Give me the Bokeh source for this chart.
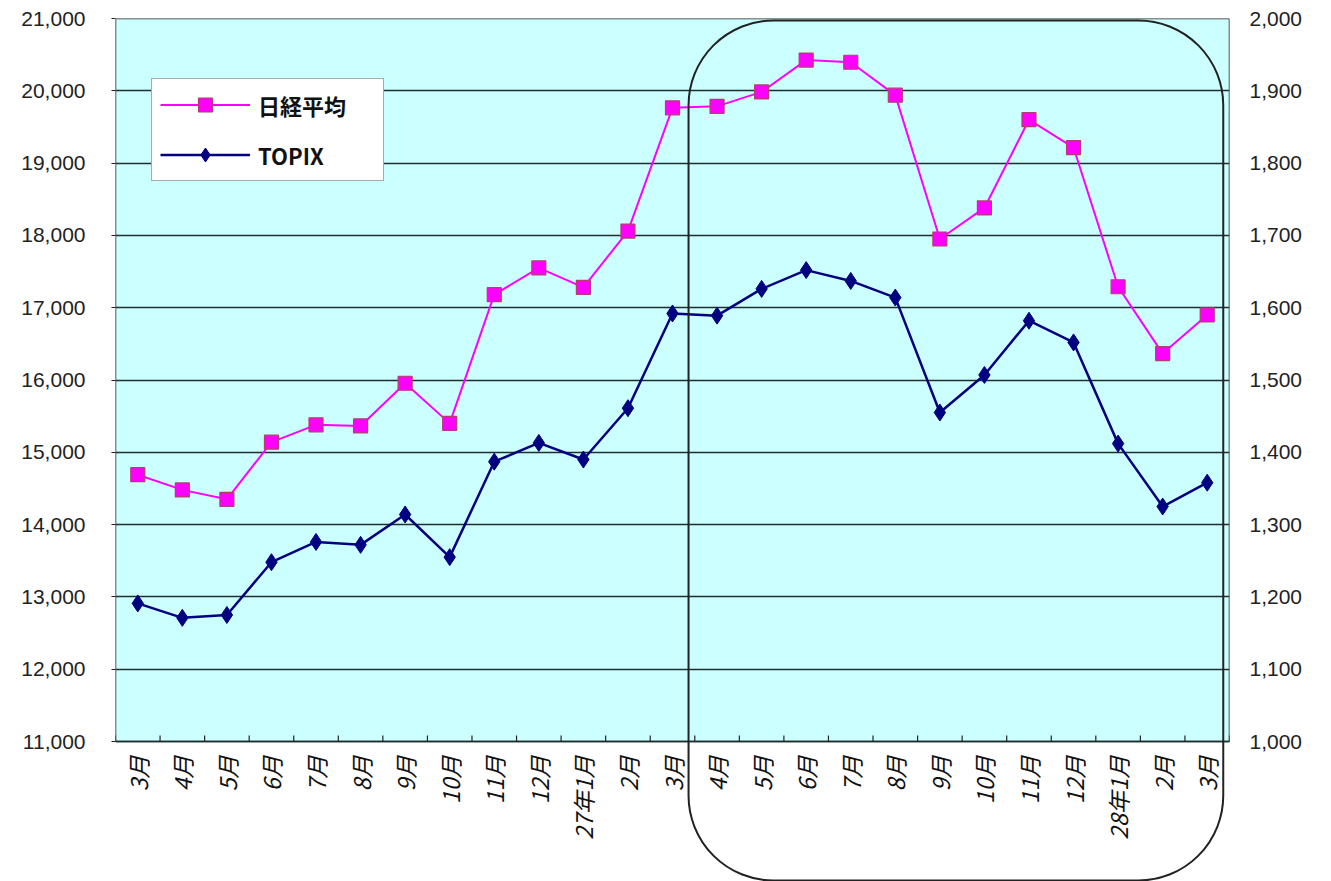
import math
from bokeh.plotting import figure
from bokeh.models import (Range1d, LinearAxis, FixedTicker, NumeralTickFormatter,
                          BoxAnnotation, Legend, LegendItem)
from bokeh.core.properties import value
from bokeh.embed import file_html
from bokeh.resources import INLINE

# ---------------- data ----------------
months = ["3月", "4月", "5月", "6月", "7月", "8月", "9月", "10月", "11月", "12月",
          "27年1月", "2月", "3月", "4月", "5月", "6月", "7月", "8月", "9月", "10月",
          "11月", "12月", "28年1月", "2月", "3月"]
nikkei = [14690, 14480, 14350, 15140, 15380, 15365, 15955, 15400, 17180, 17550,
          17280, 18060, 19765, 19785, 19985, 20425, 20395, 19940, 17950, 18380,
          19600, 19215, 17290, 16365, 16900]
topix = [1191, 1171, 1175, 1248, 1276, 1272, 1314, 1255, 1387, 1413,
         1390, 1461, 1592, 1589, 1626, 1652, 1637, 1614, 1455, 1507,
         1582, 1552, 1412, 1325, 1358]
left_ticks = [11000, 12000, 13000, 14000, 15000, 16000, 17000, 18000, 19000, 20000, 21000]
right_ticks = [1000, 1100, 1200, 1300, 1400, 1500, 1600, 1700, 1800, 1900, 2000]
highlight_start = 13   # first month inside the rounded frame (4月)
highlight_end = 24     # last month inside the rounded frame (3月)

# ---------------- layout geometry (pixels) ----------------
W, H = 1331, 881
TOP = 18            # top of the plotting area
PLOT_PX = 723       # height of the cyan plotting area
FRAME_PX = H - TOP  # the frame runs to the bottom of the canvas (room for the rounded box)

n = len(months)
x = list(range(n))

l_lo, l_hi = left_ticks[0], left_ticks[-1]
r_lo, r_hi = right_ticks[0], right_ticks[-1]
l_span = (l_hi - l_lo) * FRAME_PX / PLOT_PX
r_span = (r_hi - r_lo) * FRAME_PX / PLOT_PX
per_px = (l_hi - l_lo) / PLOT_PX

p = figure(width=W, height=H, output_backend="svg", toolbar_location=None,
           x_range=Range1d(-0.5, n - 0.5), y_range=Range1d(l_hi - l_span, l_hi),
           min_border_left=115, min_border_right=102, min_border_top=TOP, min_border_bottom=0,
           background_fill_color="white", border_fill_color="white")
p.extra_y_ranges = {"topix": Range1d(r_hi - r_span, r_hi)}
p.outline_line_color = None
p.xaxis.visible = False
p.xgrid.visible = False

# cyan plotting area with its border
area = BoxAnnotation(bottom=l_lo, top=l_hi, fill_color="#CCFFFF", fill_alpha=1.0,
                     line_color="#222222", line_width=1.5, line_alpha=1.0, level="image")
p.add_layout(area)

# horizontal grid
p.ygrid.ticker = FixedTicker(ticks=left_ticks)
p.ygrid.grid_line_color = "#1f2f2f"
p.ygrid.grid_line_width = 1.3

# left axis
ya = p.yaxis[0]
ya.ticker = FixedTicker(ticks=left_ticks)
ya.formatter = NumeralTickFormatter(format="0,0")
ya.major_tick_out = 4
ya.major_tick_in = 0
ya.major_tick_line_color = "#222222"
ya.minor_tick_line_color = None
ya.axis_line_color = None
ya.major_label_standoff = 26
ya.major_label_text_font = "Liberation Sans"
ya.major_label_text_font_size = "21px"
ya.major_label_text_color = "#222222"

# right axis
ra = LinearAxis(y_range_name="topix", ticker=FixedTicker(ticks=right_ticks),
                formatter=NumeralTickFormatter(format="0,0"))
ra.major_tick_out = 0
ra.major_tick_in = 0
ra.minor_tick_line_color = None
ra.axis_line_color = None
ra.major_label_standoff = 20
ra.major_label_text_font = "Liberation Sans"
ra.major_label_text_font_size = "21px"
ra.major_label_text_color = "#222222"
p.add_layout(ra, "right")

# category axis: boundary ticks (inside) and rotated month labels
bounds_x = [i - 0.5 for i in range(n + 1)]
p.segment(x0=bounds_x, y0=[l_lo] * (n + 1), x1=bounds_x, y1=[l_lo + 6 * per_px] * (n + 1),
          line_color="#222222", line_width=1.2)
p.text(x=x, y=[l_lo] * n, text=months, angle=math.pi / 2,
       text_align="right", text_baseline="middle", y_offset=14,
       text_font=value("Noto Sans CJK JP"), text_font_size="23px",
       text_font_style="italic", text_color="#111111")

# series
r1 = p.line(x, nikkei, line_color="#FF00FF", line_width=2)
s1 = p.scatter(x, nikkei, marker="square", size=14, fill_color="#FF00FF",
               line_color="#B0406A", line_width=1.2)
r2 = p.line(x, topix, y_range_name="topix", line_color="#000080", line_width=2.5)
s2 = p.scatter(x, topix, y_range_name="topix", marker="diamond", size=17,
               fill_color="#000080", line_color="#000080")

# rounded highlight frame
box = BoxAnnotation(left=highlight_start - 0.64, right=highlight_end + 0.36,
                    top=l_hi - 2 * per_px, bottom=l_hi - 862 * per_px,
                    fill_alpha=0, line_color="#222222", line_width=2, line_alpha=1.0,
                    border_radius=85, level="overlay")
p.add_layout(box)

# legend
legend = Legend(items=[LegendItem(label="日経平均", renderers=[r1, s1]),
                       LegendItem(label="TOPIX", renderers=[r2, s2])],
                location=(36, H - 181), padding=8, spacing=15, margin=0,
                label_height=35, glyph_height=35, glyph_width=90, label_width=117,
                label_standoff=8,
                label_text_font="Noto Sans CJK JP", label_text_font_style="bold",
                label_text_font_size="22px", label_text_color="#111111",
                border_line_color="#555555", border_line_width=1.5,
                background_fill_color="white", background_fill_alpha=1.0)
p.add_layout(legend)

open("out.html", "w").write(file_html(p, INLINE))
